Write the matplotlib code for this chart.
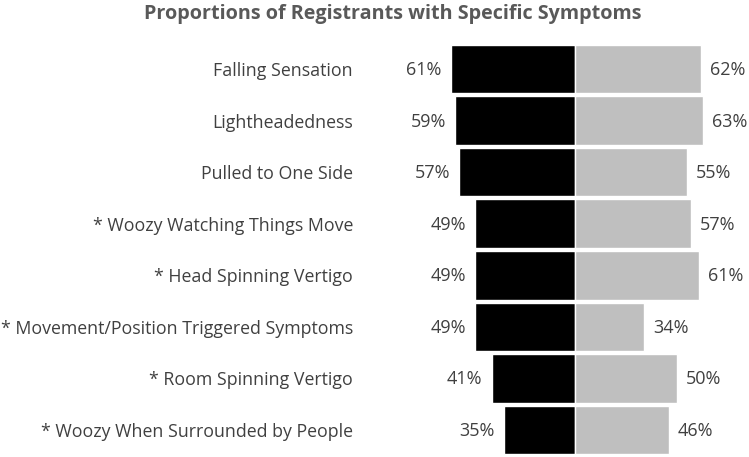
import matplotlib.pyplot as plt

plt.rcParams['font.family'] = ['Open Sans', 'DejaVu Sans']

symptoms = ['Falling Sensation', 'Lightheadedness', 'Pulled to One Side',
            '* Woozy Watching Things Move', '* Head Spinning Vertigo',
            '* Movement/Position Triggered Symptoms', '* Room Spinning Vertigo',
            '* Woozy When Surrounded by People']
left_vals = [61, 59, 57, 49, 49, 49, 41, 35]
right_vals = [62, 63, 55, 57, 61, 34, 50, 46]

fig = plt.figure(figsize=(7.49, 4.57), dpi=100)
ax = fig.add_axes([360/749, 1 - 455.8/457, 389/749, (455.8 - 43.2)/457])

y = range(len(symptoms))
ax.barh(y, [-v for v in left_vals], height=0.94, color='black', edgecolor='white', linewidth=1)
ax.barh(y, right_vals, height=0.94, color='#bfbfbf', edgecolor='white', linewidth=1)

for i in y:
    ax.text(-left_vals[i] - 4.5, i + 0.02, f'{left_vals[i]}%', ha='right', va='center',
            fontsize=13, color='#404040')
    ax.text(right_vals[i] + 4.5, i + 0.02, f'{right_vals[i]}%', ha='left', va='center',
            fontsize=13, color='#404040')

ax.set_xlim(-105.65, 85.5)
ax.set_ylim(len(symptoms) - 0.5, -0.5)
ax.set_yticks(list(y))
ax.set_yticklabels(symptoms, fontsize=12.8, color='#404040')
ax.tick_params(axis='y', length=0, pad=5)
ax.set_xticks([])
for s in ax.spines.values():
    s.set_visible(False)

fig.text(393/749, 1 - 14/457, 'Proportions of Registrants with Specific Symptoms',
         ha='center', va='center', fontsize=14.2, fontweight='bold', color='#595959')

fig.savefig('out.png', dpi=100)
